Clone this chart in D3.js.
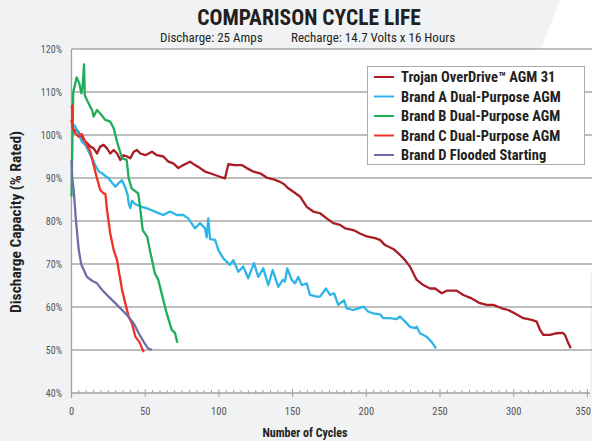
<!DOCTYPE html>
<html lang="en">

<head>
    <meta charset="UTF-8">
    <script src="https://cdn.jsdelivr.net/npm/d3@7"></script>
    <style>
        body { margin: 0; background: #f1f2f4; }
        text { font-family: "Liberation Sans Narrow", "Roboto Condensed", "DejaVu Sans Condensed", sans-serif; }
    </style>
</head>

<body>
    <div id="chart"></div>
</body>

<script>
    // DEFINE ALL VARS:

    const WIDTH = 592;
    const HEIGHT = 441;

    // Series names & colours (legend order)
    const SERIES_NAMES = ["Trojan OverDrive\u2122 AGM 31", "Brand A Dual-Purpose AGM", "Brand B Dual-Purpose AGM",
        "Brand C Dual-Purpose AGM", "Brand D Flooded Starting"];
    const SERIES_COLORS = ["#a81c24", "#2cb5e6", "#20ad5b", "#ee3124", "#6f6ea8"];

    // Tick values
    const X_TICKS = [0, 50, 100, 150, 200, 250, 300, 350];
    const Y_TICKS = [40, 50, 60, 70, 80, 90, 100, 110, 120];

    // [cycle, % rated]
    const trojan = [[0, 103.5], [1.5, 100.8], [3.7, 101.2], [6, 100], [8.3, 98.8], [10.5, 98.1], [12.8, 97.3], [15, 96.9],
        [17.3, 95.7], [19.5, 97.3], [21.8, 97.7], [24.1, 96.9], [26.3, 95.7], [28.6, 96.5], [30.9, 95.7], [33.1, 94.2],
        [35.4, 95.3], [37.7, 95], [39.9, 94.6], [42.2, 96.1], [44.4, 96.5], [46.7, 95.7], [50.1, 95.3], [54.6, 96.1],
        [58, 95.3], [62.3, 95], [65.7, 93.8], [69.1, 93.4], [72.5, 92.3], [75.8, 93], [80.4, 93.8], [83.8, 93],
        [87.2, 92.3], [90.6, 91.5], [94, 91.1], [97.4, 90.7], [100.7, 90.3], [104.1, 89.9], [106.4, 93.2], [110.9, 93],
        [115.5, 93], [118.9, 92.3], [123.3, 91.5], [127.9, 91.1], [132.4, 90.1], [136.9, 89.7], [141.5, 89.1], [144, 88.6],
        [147.1, 87.6], [150.5, 86.8], [155, 85.7], [159.6, 83.3], [164, 82.2], [168.6, 81.8], [173.1, 80.6], [177.6, 79.5],
        [182.2, 79.1], [185.6, 78.3], [191.2, 77.9], [195.7, 77.1], [200.3, 76.4], [205.9, 76], [209.3, 75.6], [212.7, 74.4],
        [218.3, 73.5], [222.9, 72.1], [226.3, 70.9], [229.6, 69.4], [234.2, 66.3], [238.7, 65.1], [243.2, 64.3], [246.6, 64.3],
        [251.2, 63.2], [254.6, 63.8], [261.3, 63.8], [265.8, 62.8], [271.5, 62], [277.1, 60.9], [281.7, 60.5], [286.2, 60.5],
        [291.9, 59.7], [296.3, 59.3], [300.9, 58.5], [306.5, 57.4], [312.2, 57], [315.6, 56.6], [317.8, 54.7], [320.1, 53.5],
        [324.6, 53.5], [329.2, 53.9], [333.3, 54], [334.8, 53.5], [337, 51.6], [338.7, 50.4]];
    const brandA = [[0, 101.9], [1.9, 102.3], [3.7, 101.2], [7.1, 98.4], [9.4, 97.7], [11.7, 96.1], [13.9, 94.6], [16.1, 93],
        [18.5, 91.5], [20.7, 91.1], [25.2, 89.9], [29.7, 88], [32, 88.8], [34.3, 89.5], [36.4, 87.8], [38.1, 86], [38.8, 84.1],
        [39.9, 83], [41, 84.7], [43.3, 83.9], [47.8, 83.3], [52.4, 82.8], [57.8, 82], [62.3, 81.4], [66.8, 82.2], [71.4, 81.4],
        [75.8, 81.4], [79.2, 80.6], [83.8, 78.3], [87.2, 79.5], [90.6, 78.3], [91.7, 76.2], [92.8, 80.6], [94, 75.8],
        [97.4, 75.6], [99.6, 73.3], [103, 71.3], [107.5, 69.8], [109.8, 70.9], [113.2, 68.2], [116.5, 69.4], [119.9, 66.7],
        [123.8, 70.2], [126.7, 67], [130.1, 69], [133.5, 65.1], [136.5, 68.6], [140.3, 64.7], [143.3, 66.3], [144.8, 65.9],
        [146.4, 69], [149.4, 66.3], [151.6, 65.5], [153.9, 67], [156.2, 65.1], [159.6, 65.5], [161.8, 62.8], [166.3, 62.4],
        [168.6, 62.4], [172.7, 64.3], [175.4, 62.8], [178.1, 63.2], [181, 60.5], [184.9, 61.6], [186.7, 59.7], [191.2, 59.3],
        [194.6, 59.7], [198, 60.1], [201.4, 58.9], [204.8, 58.5], [209.3, 58.3], [211.5, 57.4], [216, 57.4], [220.6, 57.2],
        [222.9, 57.8], [226.3, 56.6], [229.6, 55.4], [233, 55.1], [234.2, 55.4], [236.4, 53.9], [240.9, 53.1], [244.3, 51.9],
        [247.3, 50.4]];
    const brandB = [[0, 85.7], [1.2, 110], [3.5, 113.4], [5.3, 112], [6.7, 109.7], [7.6, 111.6], [8.5, 116.4], [9, 109.3],
        [10.5, 108.1], [13.9, 105.8], [15, 104.3], [17.3, 105.8], [19.5, 105], [23, 103.5], [26.3, 103.1], [28.6, 101.6],
        [30.9, 98.4], [34.3, 94.6], [37.4, 94.2], [38.8, 89.9], [40.8, 87.6], [45.3, 86.4], [46.5, 83.3], [48.3, 77.9],
        [51.4, 76.3], [53.3, 73], [56.6, 67.8], [58.9, 66.3], [62.3, 61.6], [64.6, 58.5], [68, 54.7], [70.2, 54], [71.8, 51.7]];
    const brandC = [[0.3, 107], [0.8, 101.6], [2.6, 100.4], [4.9, 99.6], [7.1, 100.2], [9.4, 98.4], [12.8, 96.1], [15, 93],
        [17.3, 89.9], [19.5, 87.2], [21.8, 86.4], [23, 86.3], [24.1, 82.6], [26.3, 77.1], [28.6, 73.3], [30.9, 70.9],
        [32.4, 67.8], [34.3, 64], [36.5, 60.9], [38.8, 57.7], [41, 56.2], [43.3, 53.1], [46, 51.9], [49, 49.5]];
    const brandD = [[0, 94.2], [0.5, 90], [1.5, 87.2], [3, 80.2], [4.9, 73.3], [6.7, 69.8], [10.5, 67], [13.9, 66.1],
        [17.3, 65.5], [20.7, 64], [25.2, 62.4], [29.7, 60.9], [34.3, 59.3], [38.8, 57.7], [42.2, 56.2], [45.6, 53.9],
        [49, 51.9], [51.9, 50.4], [54.6, 50]];

    const SERIES_DATA = [trojan, brandA, brandB, brandC, brandD];

    // CONSTRUCT D3 SVG:

    const svg = d3.select("#chart").append("svg")
        .attr("width", WIDTH)
        .attr("height", HEIGHT);

    // page background + white corner
    svg.append("rect").attr("width", WIDTH).attr("height", HEIGHT).attr("fill", "#f1f2f4");
    svg.append("polygon").attr("points", "560,0 592,0 592,273 454,273").attr("fill", "#ffffff");

    // scales
    const x = d3.scaleLinear().domain([0, 350]).range([71.5, 587.4]);
    const y = d3.scaleLinear().domain([40, 120]).range([393, 49]);

    // plot area
    svg.append("rect")
        .attr("x", x(0)).attr("y", y(120))
        .attr("width", 590 - x(0)).attr("height", y(40) - y(120))
        .attr("fill", "#ffffff");

    // gridlines
    svg.append("g").selectAll("line")
        .data(Y_TICKS.filter(d => d > 40))
        .enter().append("line")
        .attr("x1", x(0)).attr("x2", 592)
        .attr("y1", d => y(d)).attr("y2", d => y(d))
        .attr("stroke", "#a7a7a7")
        .attr("stroke-width", 1.3);

    // y axis (left line + labels)
    svg.append("line")
        .attr("x1", x(0)).attr("x2", x(0))
        .attr("y1", y(120)).attr("y2", y(40) + 5)
        .attr("stroke", "#a0a0a0").attr("stroke-width", 1.3);
    svg.append("g").selectAll("text")
        .data(Y_TICKS)
        .enter().append("text")
        .attr("x", 62).attr("y", d => y(d) + 3.5)
        .attr("text-anchor", "end")
        .attr("font-size", 10)
        .attr("fill", "#555")
        .text(d => d + "%");

    // x axis: line, minor ticks every 5 cycles, major ticks & labels
    svg.append("line")
        .attr("x1", x(0)).attr("x2", 590)
        .attr("y1", y(40)).attr("y2", y(40))
        .attr("stroke", "#a0a0a0").attr("stroke-width", 1.3);
    svg.append("g").selectAll("line")
        .data(d3.range(0, 351, 5))
        .enter().append("line")
        .attr("x1", d => x(d)).attr("x2", d => x(d))
        .attr("y1", d => d % 50 == 0 ? y(40) - 4 : y(40) - 3)
        .attr("y2", d => d % 50 == 0 ? y(40) + 4 : y(40))
        .attr("stroke", "#a0a0a0").attr("stroke-width", 1);
    // last label sits against the right edge, as in the original
    svg.append("g").selectAll("text")
        .data(X_TICKS)
        .enter().append("text")
        .attr("x", d => d == 350 ? 591 : x(d)).attr("y", 415)
        .attr("text-anchor", d => d == 350 ? "end" : "middle")
        .attr("font-size", 10.5)
        .attr("fill", "#555")
        .text(d => d);

    // series lines
    const line = d3.line()
        .x(d => x(d[0]))
        .y(d => y(d[1]));
    svg.append("g").selectAll("path")
        .data(SERIES_DATA)
        .enter().append("path")
        .attr("d", d => line(d))
        .attr("fill", "none")
        .attr("stroke", (d, i) => SERIES_COLORS[i])
        .attr("stroke-width", 2.3)
        .attr("stroke-linejoin", "round");

    // legend
    const legend = svg.append("g");
    legend.append("rect")
        .attr("x", 367.5).attr("y", 66.5)
        .attr("width", 217).attr("height", 98)
        .attr("fill", "#ffffff")
        .attr("stroke", "#ababab").attr("stroke-width", 1);
    const items = legend.selectAll("g")
        .data(SERIES_NAMES)
        .enter().append("g")
        .attr("transform", (d, i) => "translate(0," + (77 + i * 19.5) + ")");
    items.append("line")
        .attr("x1", 374).attr("x2", 394)
        .attr("stroke", (d, i) => SERIES_COLORS[i])
        .attr("stroke-width", 2);
    items.append("text")
        .attr("x", 401).attr("y", 5)
        .attr("font-size", 14.5)
        .attr("font-weight", "bold")
        .attr("fill", "#231f20")
        .text(d => d);

    // titles
    svg.append("text")
        .attr("x", 309).attr("y", 25)
        .attr("text-anchor", "middle")
        .attr("font-size", 21.5)
        .attr("font-weight", "bold")
        .attr("fill", "#231f20")
        .text("COMPARISON CYCLE LIFE");
    svg.append("text")
        .attr("x", 160).attr("y", 42)
        .attr("font-size", 13)
        .attr("fill", "#231f20")
        .text("Discharge: 25 Amps");
    svg.append("text")
        .attr("x", 291).attr("y", 42)
        .attr("font-size", 13)
        .attr("fill", "#231f20")
        .text("Recharge: 14.7 Volts x 16 Hours");
    svg.append("text")
        .attr("transform", "translate(21,222) rotate(-90)")
        .attr("text-anchor", "middle")
        .attr("font-size", 15.5)
        .attr("font-weight", "bold")
        .attr("fill", "#231f20")
        .text("Discharge Capacity (% Rated)");
    svg.append("text")
        .attr("x", 305).attr("y", 437)
        .attr("text-anchor", "middle")
        .attr("font-size", 12)
        .attr("font-weight", "bold")
        .attr("fill", "#231f20")
        .text("Number of Cycles");
</script>

</html>
